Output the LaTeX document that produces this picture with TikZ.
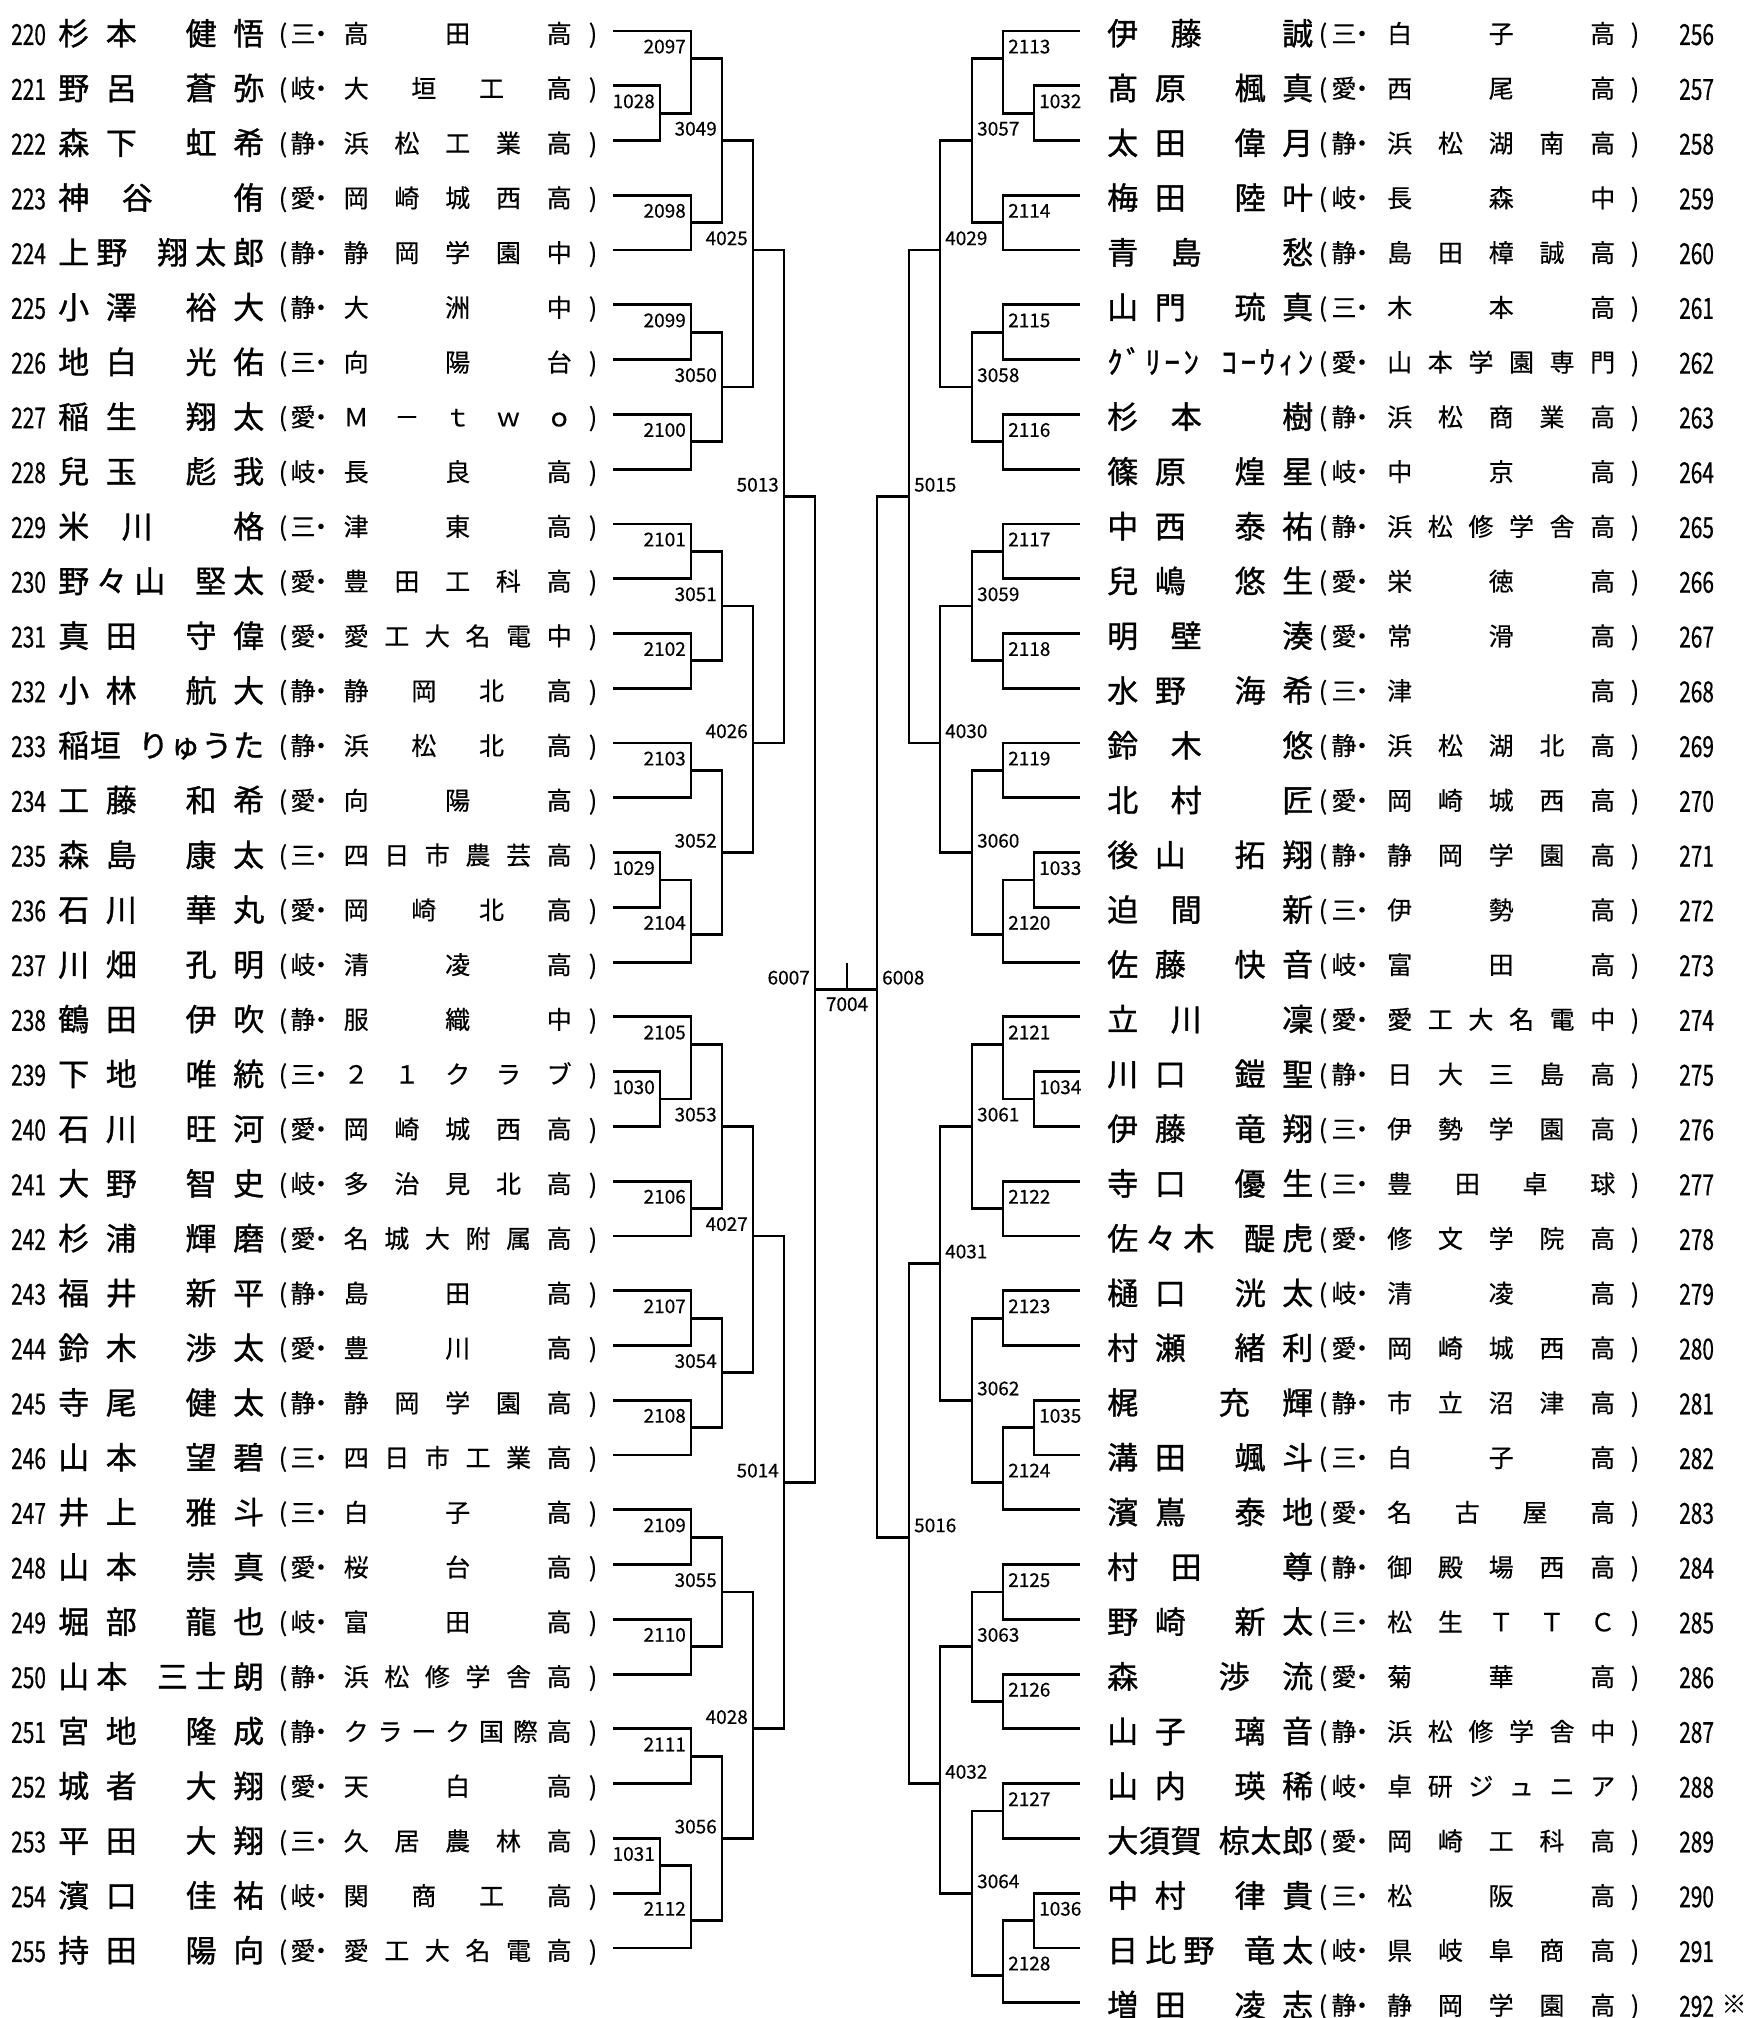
\documentclass[tikz,border=0pt]{standalone}
\usepackage{fontspec}
\setmainfont{Noto Sans CJK JP}[FakeBold=0.4]
\newfontfamily\namefam{Noto Sans CJK JP}[FakeBold=1.1]
\newfontfamily\condfont{Noto Sans CJK JP}[FakeStretch=0.72, FakeBold=0.5]
\newcommand\namefont{\namefam\fontsize{31pt}{31pt}\selectfont}
\newcommand\schfont{\fontsize{25pt}{25pt}\selectfont}
\newcommand\rowfont{\condfont\fontsize{29pt}{29pt}\selectfont}
\newcommand\lblfont{\fontsize{19pt}{19pt}\selectfont}

% spread characters evenly over a fixed width (first and last touch the edges)
\makeatletter
\protected\def\hs{\hskip.5em\relax}
\def\sp@go#1{\@tfor\sp@ch:=#1\do{\hfill\sp@ch}}
\newcommand\spreadtext[2]{\edef\sp@list{#2}%
  \hbox to #1{\hskip 0pt plus -1fill\relax\expandafter\sp@go\expandafter{\sp@list}}}
\makeatother

% match: id, x of vertical, output row, upper input, lower input
\newcommand\lmatch[5]{%
  \coordinate (m#1) at (#2, 31+54.77*#3);
  \draw[bline] (#4) -- (#4 -| m#1) -- (#5 -| m#1) -- (#5);
  \node[mlabel, anchor=base east] (t#1) at ([xshift=-5pt, yshift=5pt]m#1) {#1};
}
\newcommand\rmatch[5]{%
  \coordinate (m#1) at (#2, 31+54.77*#3);
  \draw[bline] (#4) -- (#4 -| m#1) -- (#5 -| m#1) -- (#5);
  \node[mlabel, anchor=base west] (t#1) at ([xshift=5pt, yshift=5pt]m#1) {#1};
}

\begin{document}
\begin{tikzpicture}[x=1pt, y=-1pt,
    bline/.style={line width=2.8pt},
    rowno/.style={inner sep=0pt, font=\rowfont},
    pname/.style={inner sep=0pt, font=\namefont},
    pschool/.style={inner sep=0pt, font=\schfont},
    mlabel/.style={inner sep=0pt, font=\lblfont},
  ]
  \useasboundingbox (0,0) rectangle (1753,2018);

  % left players
  \foreach \i/\pno/\sur/\giv/\pref/\sch in {
      0/220/杉本/健悟/三/高田高,
      1/221/野呂/蒼弥/岐/大垣工高,
      2/222/森下/虹希/静/浜松工業高,
      3/223/神谷/侑/愛/岡崎城西高,
      4/224/上野/翔太郎/静/静岡学園中,
      5/225/小澤/裕大/静/大洲中,
      6/226/地白/光佑/三/向陽台,
      7/227/稲生/翔太/愛/Ｍ－ｔｗｏ,
      8/228/兒玉/彪我/岐/長良高,
      9/229/米川/格/三/津東高,
      10/230/野々山/堅太/愛/豊田工科高,
      11/231/真田/守偉/愛/愛工大名電中,
      12/232/小林/航大/静/静岡北高,
      13/233/稲垣/りゅうた/静/浜松北高,
      14/234/工藤/和希/愛/向陽高,
      15/235/森島/康太/三/四日市農芸高,
      16/236/石川/華丸/愛/岡崎北高,
      17/237/川畑/孔明/岐/清凌高,
      18/238/鶴田/伊吹/静/服織中,
      19/239/下地/唯統/三/２１クラブ,
      20/240/石川/旺河/愛/岡崎城西高,
      21/241/大野/智史/岐/多治見北高,
      22/242/杉浦/輝磨/愛/名城大附属高,
      23/243/福井/新平/静/島田高,
      24/244/鈴木/渉太/愛/豊川高,
      25/245/寺尾/健太/静/静岡学園高,
      26/246/山本/望碧/三/四日市工業高,
      27/247/井上/雅斗/三/白子高,
      28/248/山本/崇真/愛/桜台高,
      29/249/堀部/龍也/岐/富田高,
      30/250/山本/三士朗/静/浜松修学舎高,
      31/251/宮地/隆成/静/クラーク国際高,
      32/252/城者/大翔/愛/天白高,
      33/253/平田/大翔/三/久居農林高,
      34/254/濱口/佳祐/岐/関商工高,
      35/255/持田/陽向/愛/愛工大名電高}{
    \coordinate (l\i) at (613, 31+54.77*\i);
    \node[rowno, anchor=base west] (lno\i) at (11, 45+54.77*\i) {\pno};
    \node[pname, anchor=base west] (lnm\i) at (58, 45+54.77*\i) {\spreadtext{206pt}{\sur\hs\giv}};
    \node[pschool, anchor=base] (lop\i) at (283, 43+54.77*\i) {(};
    \node[pschool, anchor=base] (lpf\i) at (303, 43+54.77*\i) {\pref};
    \node[pschool, anchor=base] (ldt\i) at (321, 43+54.77*\i) {・};
    \node[pschool, anchor=base west] (lsc\i) at (343.5, 43+54.77*\i) {\spreadtext{228pt}{\sch}};
    \node[pschool, anchor=base] (lcp\i) at (593, 43+54.77*\i) {)};
  }

  % right players
  \foreach \i/\pno/\sur/\giv/\pref/\sch in {
      0/256/伊藤/誠/三/白子高,
      1/257/髙原/楓真/愛/西尾高,
      2/258/太田/偉月/静/浜松湖南高,
      3/259/梅田/陸叶/岐/長森中,
      4/260/青島/愁/静/島田樟誠高,
      5/261/山門/琉真/三/木本高,
      6/262/ｸﾞﾘｰﾝ/ｺｰｳｨﾝ/愛/山本学園専門,
      7/263/杉本/樹/静/浜松商業高,
      8/264/篠原/煌星/岐/中京高,
      9/265/中西/泰祐/静/浜松修学舎高,
      10/266/兒嶋/悠生/愛/栄徳高,
      11/267/明壁/湊/愛/常滑高,
      12/268/水野/海希/三/津高,
      13/269/鈴木/悠/静/浜松湖北高,
      14/270/北村/匠/愛/岡崎城西高,
      15/271/後山/拓翔/静/静岡学園高,
      16/272/迫間/新/三/伊勢高,
      17/273/佐藤/快音/岐/富田高,
      18/274/立川/凜/愛/愛工大名電中,
      19/275/川口/鎧聖/静/日大三島高,
      20/276/伊藤/竜翔/三/伊勢学園高,
      21/277/寺口/優生/三/豊田卓球,
      22/278/佐々木/醍虎/愛/修文学院高,
      23/279/樋口/洸太/岐/清凌高,
      24/280/村瀬/緒利/愛/岡崎城西高,
      25/281/梶/充輝/静/市立沼津高,
      26/282/溝田/颯斗/三/白子高,
      27/283/濱嶌/泰地/愛/名古屋高,
      28/284/村田/尊/静/御殿場西高,
      29/285/野崎/新太/三/松生ＴＴＣ,
      30/286/森/渉流/愛/菊華高,
      31/287/山子/璃音/静/浜松修学舎中,
      32/288/山内/瑛稀/岐/卓研ジュニア,
      33/289/大須賀/椋太郎/愛/岡崎工科高,
      34/290/中村/律貴/三/松阪高,
      35/291/日比野/竜太/岐/県岐阜商高,
      36/292/増田/凌志/静/静岡学園高}{
    \coordinate (r\i) at (1080, 31+54.77*\i);
    \node[pname, anchor=base west] (rnm\i) at (1107, 45+54.77*\i) {\spreadtext{206pt}{\sur\hs\giv}};
    \node[pschool, anchor=base] (rop\i) at (1323, 43+54.77*\i) {(};
    \node[pschool, anchor=base] (rpf\i) at (1344, 43+54.77*\i) {\pref};
    \node[pschool, anchor=base] (rdt\i) at (1362, 43+54.77*\i) {・};
    \node[pschool, anchor=base west] (rsc\i) at (1387, 43+54.77*\i) {\spreadtext{228pt}{\sch}};
    \node[pschool, anchor=base] (rcp\i) at (1635, 43+54.77*\i) {)};
    \node[rowno, anchor=base west] (rno\i) at (1679, 45+54.77*\i) {\pno};
  }
  \node[pschool, anchor=base] (note) at (1734, 2013) {※};

  % left half
  \lmatch{1028}{660}{1.5}{l1}{l2}
  \lmatch{1029}{660}{15.5}{l15}{l16}
  \lmatch{1030}{660}{19.5}{l19}{l20}
  \lmatch{1031}{660}{33.5}{l33}{l34}
  \lmatch{2097}{691}{0.5}{l0}{m1028}
  \lmatch{2098}{691}{3.5}{l3}{l4}
  \lmatch{2099}{691}{5.5}{l5}{l6}
  \lmatch{2100}{691}{7.5}{l7}{l8}
  \lmatch{2101}{691}{9.5}{l9}{l10}
  \lmatch{2102}{691}{11.5}{l11}{l12}
  \lmatch{2103}{691}{13.5}{l13}{l14}
  \lmatch{2104}{691}{16.5}{m1029}{l17}
  \lmatch{2105}{691}{18.5}{l18}{m1030}
  \lmatch{2106}{691}{21.5}{l21}{l22}
  \lmatch{2107}{691}{23.5}{l23}{l24}
  \lmatch{2108}{691}{25.5}{l25}{l26}
  \lmatch{2109}{691}{27.5}{l27}{l28}
  \lmatch{2110}{691}{29.5}{l29}{l30}
  \lmatch{2111}{691}{31.5}{l31}{l32}
  \lmatch{2112}{691}{34.5}{m1031}{l35}
  \lmatch{3049}{722}{2}{m2097}{m2098}
  \lmatch{3050}{722}{6.5}{m2099}{m2100}
  \lmatch{3051}{722}{10.5}{m2101}{m2102}
  \lmatch{3052}{722}{15}{m2103}{m2104}
  \lmatch{3053}{722}{20}{m2105}{m2106}
  \lmatch{3054}{722}{24.5}{m2107}{m2108}
  \lmatch{3055}{722}{28.5}{m2109}{m2110}
  \lmatch{3056}{722}{33}{m2111}{m2112}
  \lmatch{4025}{753}{4}{m3049}{m3050}
  \lmatch{4026}{753}{13}{m3051}{m3052}
  \lmatch{4027}{753}{22}{m3053}{m3054}
  \lmatch{4028}{753}{31}{m3055}{m3056}
  \lmatch{5013}{784}{8.5}{m4025}{m4026}
  \lmatch{5014}{784}{26.5}{m4027}{m4028}
  \lmatch{6007}{815}{17.5}{m5013}{m5014}

  % right half
  \rmatch{1032}{1034}{1.5}{r1}{r2}
  \rmatch{1033}{1034}{15.5}{r15}{r16}
  \rmatch{1034}{1034}{19.5}{r19}{r20}
  \rmatch{1035}{1034}{25.5}{r25}{r26}
  \rmatch{1036}{1034}{34.5}{r34}{r35}
  \rmatch{2113}{1003}{0.5}{r0}{m1032}
  \rmatch{2114}{1003}{3.5}{r3}{r4}
  \rmatch{2115}{1003}{5.5}{r5}{r6}
  \rmatch{2116}{1003}{7.5}{r7}{r8}
  \rmatch{2117}{1003}{9.5}{r9}{r10}
  \rmatch{2118}{1003}{11.5}{r11}{r12}
  \rmatch{2119}{1003}{13.5}{r13}{r14}
  \rmatch{2120}{1003}{16.5}{m1033}{r17}
  \rmatch{2121}{1003}{18.5}{r18}{m1034}
  \rmatch{2122}{1003}{21.5}{r21}{r22}
  \rmatch{2123}{1003}{23.5}{r23}{r24}
  \rmatch{2124}{1003}{26.5}{m1035}{r27}
  \rmatch{2125}{1003}{28.5}{r28}{r29}
  \rmatch{2126}{1003}{30.5}{r30}{r31}
  \rmatch{2127}{1003}{32.5}{r32}{r33}
  \rmatch{2128}{1003}{35.5}{m1036}{r36}
  \rmatch{3057}{972}{2}{m2113}{m2114}
  \rmatch{3058}{972}{6.5}{m2115}{m2116}
  \rmatch{3059}{972}{10.5}{m2117}{m2118}
  \rmatch{3060}{972}{15}{m2119}{m2120}
  \rmatch{3061}{972}{20}{m2121}{m2122}
  \rmatch{3062}{972}{25}{m2123}{m2124}
  \rmatch{3063}{972}{29.5}{m2125}{m2126}
  \rmatch{3064}{972}{34}{m2127}{m2128}
  \rmatch{4029}{940}{4}{m3057}{m3058}
  \rmatch{4030}{940}{13}{m3059}{m3060}
  \rmatch{4031}{940}{22.5}{m3061}{m3062}
  \rmatch{4032}{940}{32}{m3063}{m3064}
  \rmatch{5015}{909}{8.5}{m4029}{m4030}
  \rmatch{5016}{909}{27.5}{m4031}{m4032}
  \rmatch{6008}{877}{17.5}{m5015}{m5016}

  % final
  \draw[bline] (m6007) -- (m6008);
  \coordinate (fintop) at (847, 963);
  \draw[bline] (fintop) -- (fintop |- m6007);
  \node[mlabel, anchor=base] (t7004) at (847, 1011) {7004};
\end{tikzpicture}
\end{document}
